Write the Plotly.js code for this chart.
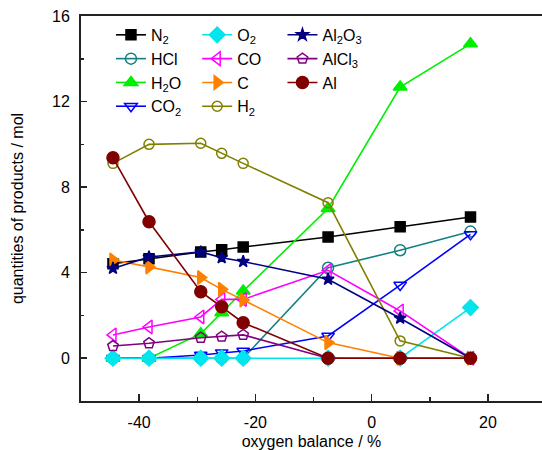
<!DOCTYPE html>
<html><head><meta charset="utf-8">
<script src="https://cdn.plot.ly/plotly-3.0.1.min.js"></script>
<style>html,body{margin:0;padding:0;overflow:hidden;background:#fff}</style>
</head><body>
<div id="chart" style="width:542px;height:450px"></div>
<script>
// oxygen balance / %
const oxygenBalance = [-44.5, -38.3, -29.4, -25.8, -22.1, -7.5, 4.9, 17.0];
// quantities of products / mol
const N2    = [4.42, 4.65, 4.97, 5.07, 5.20, 5.67, 6.15, 6.60];
const HCl   = [0, 0, 0, 0, 0, 4.23, 5.05, 5.92];
const H2O   = [0, 0, 1.15, 2.13, 3.14, 7.00, 12.68, 14.70];
const CO2   = [0, 0, 0.15, 0.26, 0.34, 1.04, 3.42, 5.79];
const O2    = [0, 0, 0, 0, 0, 0, 0, 2.37];
const CO    = [1.09, 1.46, 1.93, 2.75, 2.75, 4.11, 2.21, 0];
const C     = [4.59, 4.27, 3.77, 3.22, 2.72, 0.73, 0, 0];
const H2    = [9.11, 10.00, 10.05, 9.58, 9.11, 7.27, 0.81, 0];
const Al2O3 = [4.20, 4.73, 4.97, 4.70, 4.52, 3.69, 1.87, 0];
const AlCl3 = [0.57, 0.70, 0.96, 1.01, 1.09, 0, 0, 0];
const Al    = [9.37, 6.38, 3.11, 2.41, 1.66, 0, 0, 0];

const xTicks = [-40, -20, 0, 20];
const yTicks = [0, 4, 8, 12, 16];

const seriesList = [
  {name: 'N<sub>2</sub>', y: N2, color: '#000000', symbol: 'square', size: 10, legend: 'legend'},
  {name: 'HCl', y: HCl, color: '#138080', symbol: 'circle-open', size: 11, legend: 'legend'},
  {name: 'H<sub>2</sub>O', y: H2O, color: '#00ee00', symbol: 'triangle-up', size: 12, legend: 'legend'},
  {name: 'CO<sub>2</sub>', y: CO2, color: '#0000ff', symbol: 'triangle-down-open', size: 11, legend: 'legend'},
  {name: 'O<sub>2</sub>', y: O2, color: '#00e5ee', symbol: 'diamond', size: 12, legend: 'legend2'},
  {name: 'CO', y: CO, color: '#ff00ff', symbol: 'triangle-left-open', size: 12, legend: 'legend2'},
  {name: 'C', y: C, color: '#ff8000', symbol: 'triangle-right', size: 12, legend: 'legend2'},
  {name: 'H<sub>2</sub>', y: H2, color: '#808000', symbol: 'circle-open', size: 10, legend: 'legend2'},
  {name: 'Al<sub>2</sub>O<sub>3</sub>', y: Al2O3, color: '#000080', symbol: 'star', size: 9, legend: 'legend3'},
  {name: 'AlCl<sub>3</sub>', y: AlCl3, color: '#800080', symbol: 'pentagon-open', size: 11, legend: 'legend3'},
  {name: 'Al', y: Al, color: '#800000', symbol: 'circle', size: 12, legend: 'legend3'}
];

const traces = seriesList.map(s => ({
  type: 'scatter', mode: 'lines+markers', x: oxygenBalance, y: s.y, name: s.name,
  legend: s.legend,
  line: {color: s.color, width: 1.6},
  marker: {color: s.color, symbol: s.symbol, size: s.size, line: {color: s.color, width: 1.5}}
}));

const fnt = {family: 'Arial, "Liberation Sans", sans-serif', size: 16, color: '#000'};
const legendBase = {font: fnt, bgcolor: 'rgba(0,0,0,0)', borderwidth: 0, yanchor: 'top', xanchor: 'left', y: 0.995, tracegroupgap: 0, itemwidth: 30};

const layout = {
  width: 542, height: 450,
  margin: {l: 81, r: 0, t: 16, b: 49},
  paper_bgcolor: '#fff', plot_bgcolor: '#fff',
  font: fnt,
  showlegend: true,
  legend: Object.assign({}, legendBase, {x: 0.065}),
  legend2: Object.assign({}, legendBase, {x: 0.252}),
  legend3: Object.assign({}, legendBase, {x: 0.437}),
  xaxis: {
    range: [-50, 29.3], tickvals: xTicks, ticktext: xTicks.map(String),
    ticks: 'inside', ticklen: 7, tickwidth: 1.5, tickcolor: '#222',
    minor: {dtick: 10, tick0: 0, ticks: 'inside', ticklen: 4, tickwidth: 1.5, tickcolor: '#222'},
    showline: true, linecolor: '#222', linewidth: 2, mirror: true,
    showgrid: false, zeroline: false, ticklabelstandoff: 6,
    title: {text: 'oxygen balance / %', font: fnt, standoff: 10}
  },
  yaxis: {
    range: [-2, 16], tickvals: yTicks, ticktext: yTicks.map(String),
    ticks: 'inside', ticklen: 6, tickwidth: 1.5, tickcolor: '#222',
    minor: {dtick: 4, tick0: 2, ticks: 'inside', ticklen: 3, tickwidth: 1.5, tickcolor: '#222'},
    showline: true, linecolor: '#222', linewidth: 2, mirror: false,
    showgrid: false, zeroline: false, ticklabelstandoff: 6,
    title: {text: 'quantities of products / mol', font: fnt, standoff: 24}
  }
};

Plotly.newPlot('chart', traces, layout, {displayModeBar: false, staticPlot: true});
</script>
</body></html>
